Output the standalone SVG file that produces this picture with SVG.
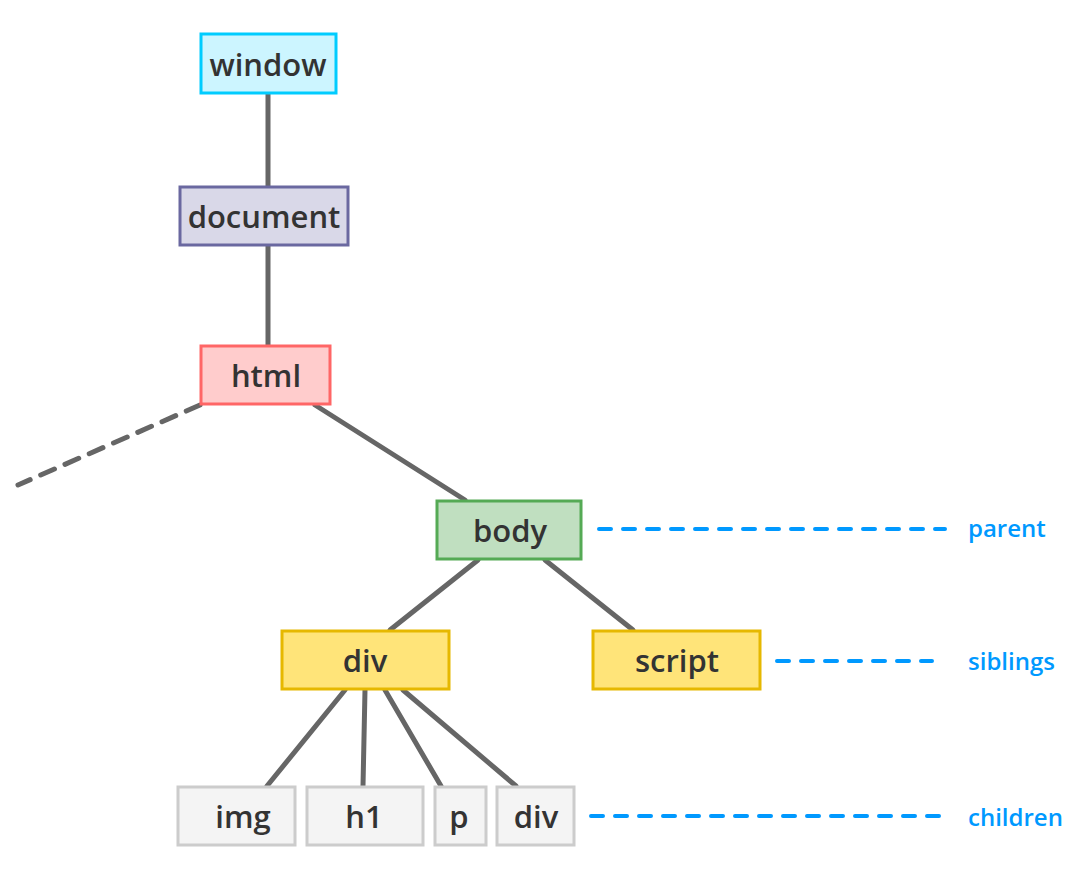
<svg xmlns="http://www.w3.org/2000/svg" width="1080" height="880" viewBox="0 0 1080 880">
<style>
.n rect{stroke-width:3}
.n text{font-family:"Open Sans","Liberation Sans",sans-serif;font-size:31px;font-weight:600;fill:#333;text-anchor:middle}
.c line{stroke:#666;stroke-width:5;stroke-linecap:round}
.g line{stroke:#0099ff;stroke-width:4;stroke-dasharray:12 12;stroke-linecap:round}
.g text{font-family:"Open Sans","Liberation Sans",sans-serif;font-size:24px;font-weight:600;fill:#0099ff}
</style>
<rect width="1080" height="880" fill="#fff"/>
<g class="c">
<line x1="268" y1="94" x2="268" y2="186"/>
<line x1="268" y1="246" x2="268" y2="345"/>
<line x1="315" y1="405" x2="465" y2="500"/>
<line x1="200" y1="405" x2="18" y2="485" stroke-dasharray="15 11.5"/>
<line x1="478" y1="560" x2="390" y2="630"/>
<line x1="545" y1="560" x2="633" y2="630"/>
<line x1="345" y1="690" x2="267" y2="786"/>
<line x1="365" y1="690" x2="363" y2="786"/>
<line x1="385" y1="690" x2="441" y2="786"/>
<line x1="403" y1="690" x2="516" y2="786"/>
</g>
<g id="window" class="n"><rect x="201" y="34" width="135" height="59" fill="#ccf5ff" stroke="#00ccff"/><text x="268" y="76">window</text></g>
<g id="document" class="n"><rect x="180" y="187" width="168" height="58" fill="#d9d8e8" stroke="#6a68a0"/><text x="264" y="228">document</text></g>
<g id="html" class="n"><rect x="201" y="346" width="129" height="58" fill="#ffcccc" stroke="#ff6666"/><text x="266" y="387">html</text></g>
<g id="body" class="n"><rect x="437" y="501" width="144" height="58" fill="#c0dfc0" stroke="#55aa55"/><text x="510" y="542">body</text></g>
<g id="div" class="n"><rect x="282" y="631" width="167" height="58" fill="#ffe479" stroke="#e6b800"/><text x="365" y="672">div</text></g>
<g id="script" class="n"><rect x="593" y="631" width="167" height="58" fill="#ffe479" stroke="#e6b800"/><text x="677" y="672">script</text></g>
<g id="img" class="n"><rect x="178" y="787" width="117" height="58" fill="#f4f4f4" stroke="#cccccc"/><text x="243" y="828">img</text></g>
<g id="h1" class="n"><rect x="307" y="787" width="116" height="58" fill="#f4f4f4" stroke="#cccccc"/><text x="364" y="828">h1</text></g>
<g id="p" class="n"><rect x="435" y="787" width="51" height="58" fill="#f4f4f4" stroke="#cccccc"/><text x="459" y="828">p</text></g>
<g id="div2" class="n"><rect x="497" y="787" width="77" height="58" fill="#f4f4f4" stroke="#cccccc"/><text x="536" y="828">div</text></g>
<g class="g">
<line x1="599" y1="529" x2="945" y2="529"/>
<line x1="777" y1="661" x2="932" y2="661"/>
<line x1="591" y1="816" x2="940" y2="816"/>
<text x="968" y="537">parent</text>
<text x="968" y="670">siblings</text>
<text x="968" y="826">children</text>
</g>
</svg>
